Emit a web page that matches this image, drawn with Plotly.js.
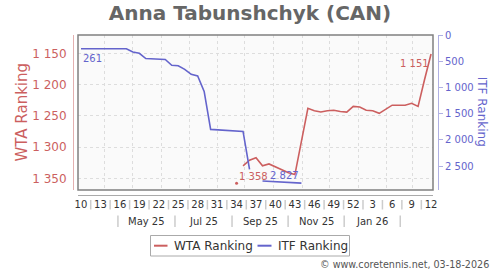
<!DOCTYPE html>
<html><head><meta charset="utf-8">
<script src="https://cdn.plot.ly/plotly-3.0.1.min.js"></script>
<style>html,body{margin:0;padding:0;background:#fff}#chart{width:500px;height:270px}</style>
</head><body><div id="chart"></div>
<script>
// ISO week numbers, week 10 of 2025 to week 12 of 2026
const weeks = [10,11,12,13,14,15,16,17,18,19,20,21,22,23,24,25,26,27,28,29,30,31,32,33,34,35,36,37,38,39,40,41,42,43,44,45,46,47,48,49,50,51,52,
               1,2,3,4,5,6,7,8,9,10,11,12];
const wtaName = 'WTA Ranking';
const itfName = 'ITF Ranking';
const wtaRanking = [null,null,null,null,null,null,null,null,null,null,null,null,null,null,null,null,null,null,null,null,null,null,null,null,
  1358,1330,1321,1317,1330,1327,1332,1337,1341,1344,1290,1238,1242,1244,1242,1241,1243,1244,1235,1236,1241,1242,1246,1239,1233,1233,1233,1230,1235,1192,1151];
const wtaBreaksAfter = [24];
const itfRanking = [261,261,261,261,262,262,263,263,325,350,450,458,462,467,577,588,655,750,780,1077,1801,1810,1818,1825,1830,1840,2565,null,
  2785,2792,2800,2808,2815,2822,2827];
const wtaTicks = [1150,1200,1250,1300,1350];
const itfTicks = [0,500,1000,1500,2000,2500];
const monthLabels = ['May 25','Jul 25','Sep 25','Nov 25','Jan 26'];
const monthBounds = [5.7,14.5,23.3,31.95,40.6,49.25];
const monthStarts = [3.55,8.02,12.35,16.67,20.99,25.15,29.63,34.1,38.27,42.75,47.07,51.08];

const RED = '#cc5f5f', BLUE = '#6464cc';
const W=500,H=270,L=73,R=438,T=35,B=199;
const pw=R-L, ph=B-T;
const px = x => (x-L)/pw, py = y => (B-y)/ph;
const fmt = v => String(v).replace(/\B(?=(\d{3})+(?!\d))/g,' ');

// build series with breaks
function buildSeries(vals, breaks){
  const xs=[], ys=[];
  vals.forEach((v,i)=>{ xs.push(i); ys.push(v===undefined?null:v);
    if(breaks && breaks.includes(i)){ xs.push(i+0.5); ys.push(null);} });
  return {xs, ys};
}
function isolated(xs, ys){
  const ox=[], oy=[];
  ys.forEach((v,k)=>{ if(v!=null && (k===0||ys[k-1]==null) && (k===ys.length-1||ys[k+1]==null)){ox.push(xs[k]);oy.push(v);} });
  return {ox, oy};
}
const wtaS = buildSeries(wtaRanking, wtaBreaksAfter);
const itfS = buildSeries(itfRanking, []);
const wtaIso = isolated(wtaS.xs, wtaS.ys);
const itfIso = isolated(itfS.xs, itfS.ys);

const traces = [
  {x:wtaS.xs, y:wtaS.ys, name:wtaName, type:'scatter', mode:'lines', yaxis:'y', connectgaps:false, line:{color:RED,width:1.6}},
  {x:wtaIso.ox, y:wtaIso.oy, type:'scatter', mode:'markers', yaxis:'y', marker:{color:RED,size:3}, showlegend:false},
  {x:itfS.xs, y:itfS.ys, name:itfName, type:'scatter', mode:'lines', yaxis:'y2', connectgaps:false, line:{color:BLUE,width:1.6}},
  {x:itfIso.ox, y:itfIso.oy, type:'scatter', mode:'markers', yaxis:'y2', marker:{color:BLUE,size:3}, showlegend:false}
];

const tickvals=[], ticktext=[];
weeks.forEach((w,i)=>{ if(i%3===0){tickvals.push(i); ticktext.push(String(w));} });

const shapes = [
  {type:'rect', xref:'x domain', yref:'y domain', x0:0,x1:1,y0:0,y1:1, line:{color:'#808080',width:1.5}, layer:'above'}
];
for(let k=0;k<tickvals.length-1;k++){
  const xm=(tickvals[k]+tickvals[k+1])/2;
  shapes.push({type:'line', xref:'x', yref:'paper', x0:xm,x1:xm,y0:py(200),y1:py(209.5), line:{color:'#cccccc',width:1.5}});
}
monthBounds.forEach(b=>shapes.push({type:'line', xref:'x', yref:'paper', x0:b,x1:b,y0:py(215.5),y1:py(227), line:{color:'#cccccc',width:1.5}}));
// legend box
shapes.push({type:'rect', xref:'paper', yref:'paper', x0:px(150.5),x1:px(349.5),y0:py(235.5),y1:py(256), line:{color:'#aaaaaa',width:1}, fillcolor:'#ffffff'});
shapes.push({type:'line', xref:'paper', yref:'paper', x0:px(154),x1:px(167.5),y0:py(245.7),y1:py(245.7), line:{color:RED,width:2}});
shapes.push({type:'line', xref:'paper', yref:'paper', x0:px(257.5),x1:px(271.5),y0:py(245.7),y1:py(245.7), line:{color:BLUE,width:2}});

const annotations = [];
monthLabels.forEach((m,k)=>annotations.push({xref:'x', yref:'paper', x:(monthBounds[k]+monthBounds[k+1])/2, y:py(221), text:m, showarrow:false, font:{size:10,color:'#333'}, xanchor:'center', yanchor:'middle'}));
// value labels: first and last of each series
function firstLast(vals){ let f=-1,l=-1; vals.forEach((v,i)=>{ if(v!=null){ if(f<0)f=i; l=i; } }); return [f,l]; }
const [wf,wl]=firstLast(wtaRanking), [itf0,itfl]=firstLast(itfRanking);
annotations.push({x:itf0, y:itfRanking[itf0], yref:'y2', text:fmt(itfRanking[itf0]), showarrow:false, xanchor:'left', yanchor:'top', yshift:-2, font:{size:10,color:BLUE}});
annotations.push({x:itfl, y:itfRanking[itfl], yref:'y2', text:fmt(itfRanking[itfl]), showarrow:false, xanchor:'right', yanchor:'bottom', yshift:0, font:{size:10,color:BLUE}});
annotations.push({x:wf, y:wtaRanking[wf], yref:'y', text:fmt(wtaRanking[wf]), showarrow:false, xanchor:'left', yanchor:'bottom', yshift:-1, font:{size:10,color:RED}});
annotations.push({x:wl, y:wtaRanking[wl], yref:'y', text:fmt(wtaRanking[wl]), showarrow:false, xanchor:'right', yanchor:'top', yshift:-2, font:{size:10,color:RED}});
// axis titles
annotations.push({xref:'paper', yref:'paper', x:px(21), y:py(112.5), text:wtaName, textangle:-90, showarrow:false, xanchor:'center', yanchor:'middle', font:{size:15,color:RED}});
annotations.push({xref:'paper', yref:'paper', x:px(482), y:py(111.7), text:itfName, textangle:90, showarrow:false, xanchor:'center', yanchor:'middle', font:{size:12,color:BLUE}});
// legend texts
annotations.push({xref:'paper', yref:'paper', x:px(171.5), y:py(245.5), text:wtaName, showarrow:false, xanchor:'left', yanchor:'middle', font:{size:12,color:'#333'}});
annotations.push({xref:'paper', yref:'paper', x:px(275.5), y:py(245.5), text:itfName, showarrow:false, xanchor:'left', yanchor:'middle', font:{size:12,color:'#333'}});
// credit
annotations.push({xref:'paper', yref:'paper', x:px(491), y:py(264), text:'© www.coretennis.net, 03-18-2026', showarrow:false, xanchor:'right', yanchor:'middle', font:{size:9.6,color:'#555'}});

const layout = {
  width:W, height:H,
  margin:{l:L, r:W-R, t:T, b:H-B, pad:0},
  paper_bgcolor:'#ffffff', plot_bgcolor:'#fafafa',
  separators:'. ',
  showlegend:false,
  font:{family:'DejaVu Sans', color:'#333'},
  title:{text:'Anna Tabunshchyk (CAN)', font:{family:'DejaVu Sans', size:20, color:'#666666', weight:'bold'}, x:0.5, xref:'container', xanchor:'center', y:1-12.5/H, yref:'container', yanchor:'middle'},
  xaxis:{domain:[px(78),px(433)], range:[-0.46,54.3], anchor:'free', position:py(195), showline:true, linecolor:'#aaaaaa', linewidth:1,
    tickmode:'array', tickvals:tickvals, ticktext:ticktext, ticks:'', tickfont:{size:10,color:'#333'}, showgrid:false, zeroline:false, fixedrange:true,
    minor:{tickmode:'array', tickvals:monthStarts, showgrid:true, gridcolor:'#dddddd', griddash:'3px,3px', gridwidth:1, ticks:''}},
  yaxis:{domain:[py(190),1], range:[1368.7,1120.7], anchor:'free', position:0, showline:true, linecolor:'#e3b0b0', linewidth:1,
    tickmode:'array', tickvals:wtaTicks, ticktext:wtaTicks.map(fmt), ticks:'', ticklabelstandoff:4, tickfont:{size:12,color:RED},
    showgrid:true, gridcolor:'#dddddd', griddash:'3px,3px', gridwidth:1, zeroline:false},
  yaxis2:{overlaying:'y', side:'right', anchor:'free', position:1, range:[2958,0], showline:true, linecolor:'#b0b0e3', linewidth:1,
    tickmode:'array', tickvals:itfTicks, ticktext:itfTicks.map(fmt), ticks:'outside', ticklen:4, tickcolor:'#b0b0e3', tickfont:{size:10,color:BLUE},
    showgrid:false, zeroline:false},
  shapes:shapes, annotations:annotations
};
Plotly.newPlot('chart', traces, layout, {staticPlot:true, displayModeBar:false});
</script></body></html>
